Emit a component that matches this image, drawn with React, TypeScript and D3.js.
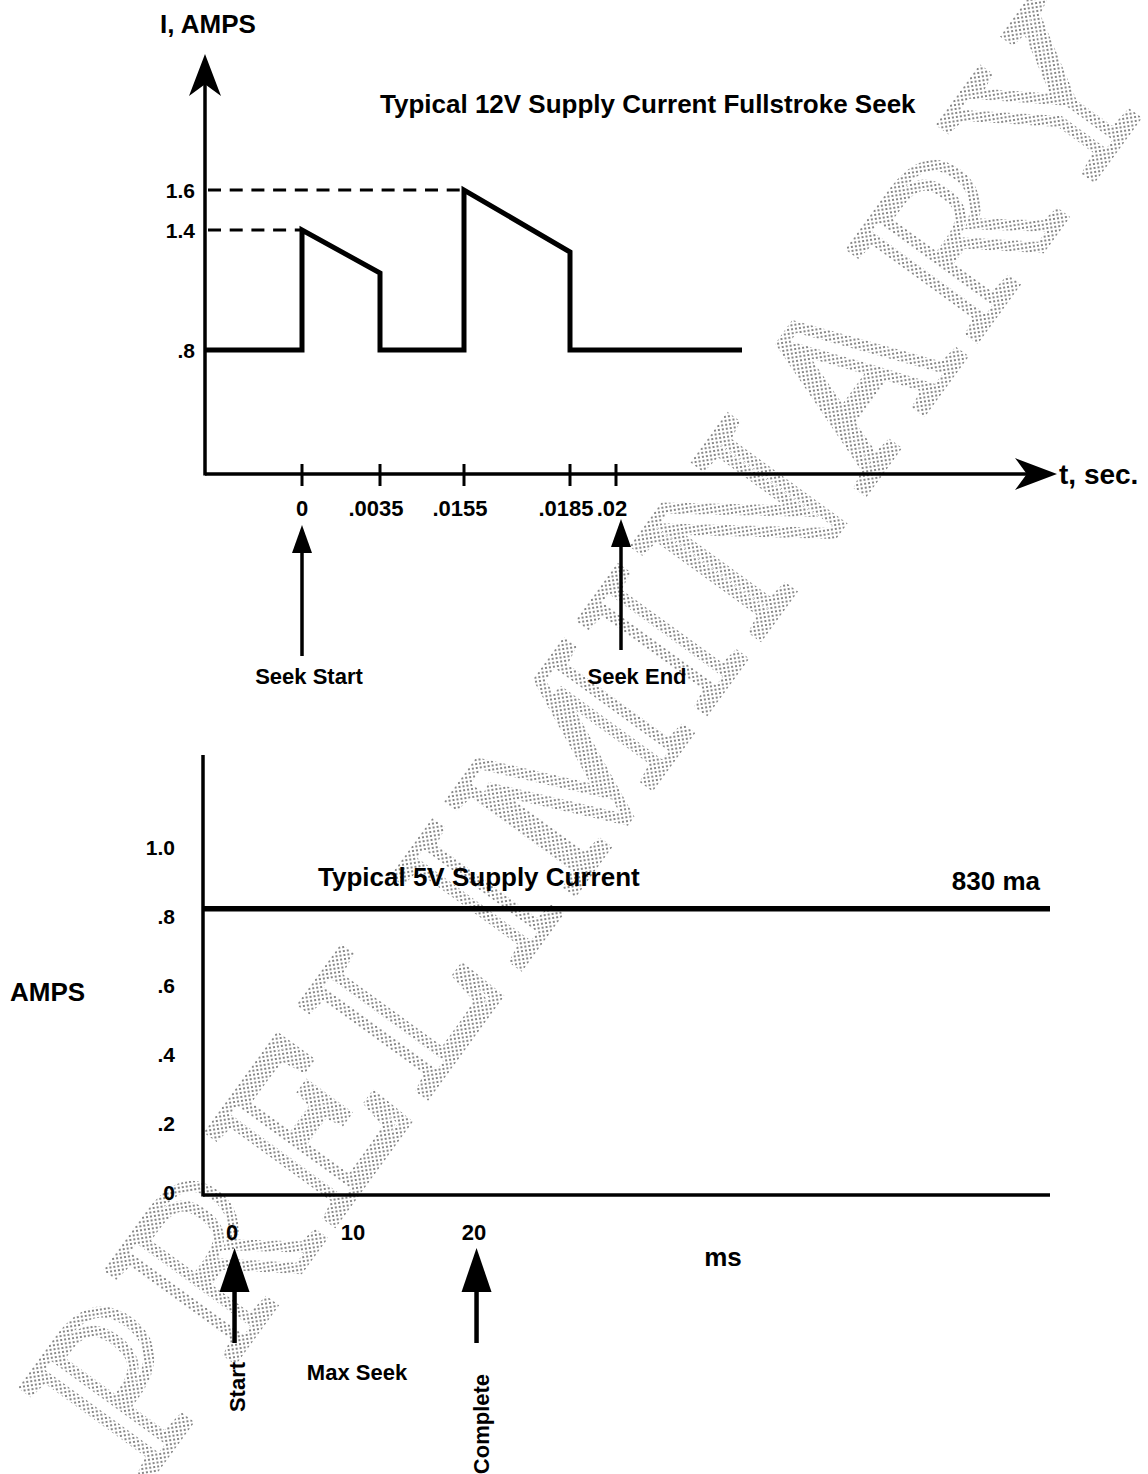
import React, { useEffect, useRef } from "react";
import * as d3 from "d3";

// top chart: 12V supply current during a fullstroke seek
const tickTimes = [0, 0.0035, 0.0155, 0.0185, 0.02];
const tickLabels = ["0", ".0035", ".0155", ".0185", ".02"];
const levelValues = [1.6, 1.4, 0.8];
const levelLabels = ["1.6", "1.4", ".8"];
const waveTime = [-0.004, 0, 0, 0.0035, 0.0035, 0.0155, 0.0155, 0.0185, 0.0185, 0.024];
const waveAmps = [0.8, 0.8, 1.4, 1.185, 0.8, 0.8, 1.6, 1.29, 0.8, 0.8];
const seekMarkTimes = [0, 0.02];
const seekMarkLabels = ["Seek Start", "Seek End"];

// bottom chart: 5V supply current
const ampTicks = [0, 0.2, 0.4, 0.6, 0.8, 1.0];
const ampLabels = ["0", ".2", ".4", ".6", ".8", "1.0"];
const msTicks = [0, 10, 20];
const supply5V = 0.83;
const seekMs = [0, 20];
const seekMsLabels = ["Start", "Complete"];

const FONT = "'Liberation Sans', Arial, Helvetica, sans-serif";

type G = d3.Selection<SVGGElement, unknown, null, undefined>;

function label(g: G, s: string, x: number, y: number, size: number, anchor = "start") {
  return g
    .append("text")
    .attr("x", x)
    .attr("y", y)
    .attr("font-family", FONT)
    .attr("font-weight", "bold")
    .attr("font-size", size)
    .attr("text-anchor", anchor)
    .attr("fill", "#000")
    .text(s);
}

// barbed arrow head for the axis ends
function barb(g: G, tipX: number, tipY: number, dir: "up" | "right", len: number, half: number) {
  const notch = len * 0.72;
  const pts =
    dir === "up"
      ? [[tipX, tipY], [tipX - half, tipY + len], [tipX, tipY + notch], [tipX + half, tipY + len]]
      : [[tipX, tipY], [tipX - len, tipY - half], [tipX - notch, tipY], [tipX - len, tipY + half]];
  g.append("path").attr("d", "M" + pts.join("L") + "Z").attr("fill", "#000");
}

// plain up arrow for markers below the axis
function upArrow(g: G, x: number, tipY: number, headLen: number, half: number, endY: number, w: number) {
  g.append("line")
    .attr("x1", x).attr("x2", x)
    .attr("y1", tipY + headLen - 2).attr("y2", endY)
    .attr("stroke", "#000").attr("stroke-width", w);
  g.append("path")
    .attr("d", `M${x},${tipY}L${x - half},${tipY + headLen}L${x + half},${tipY + headLen}Z`)
    .attr("fill", "#000");
}

export default function App() {
  const ref = useRef<SVGSVGElement>(null);

  useEffect(() => {
    const svg = d3.select(ref.current).attr("width", 1148).attr("height", 1474);
    svg.selectAll("*").remove();

    svg.append("rect").attr("width", 1148).attr("height", 1474).attr("fill", "#fff");

    // halftone watermark
    const defs = svg.append("defs");
    defs
      .append("pattern")
      .attr("id", "dots")
      .attr("width", 4)
      .attr("height", 4)
      .attr("patternUnits", "userSpaceOnUse")
      .attr("patternTransform", "rotate(45)")
      .append("rect")
      .attr("width", 2)
      .attr("height", 2)
      .attr("fill", "#888");

    svg
      .append("text")
      .attr("transform", "translate(595,728) rotate(-54)")
      .attr("font-family", "'Liberation Serif', 'Times New Roman', serif")
      .attr("font-size", 232)
      .attr("letter-spacing", 16)
      .attr("text-anchor", "middle")
      .attr("dominant-baseline", "central")
      .attr("fill", "none")
      .attr("stroke", "url(#dots)")
      .attr("stroke-width", 11)
      .text("PRELIMINARY");

    const g = svg.append("g") as unknown as G;

    // ---------- top chart ----------
    const x = d3
      .scaleLinear()
      .domain([-0.004, 0, 0.0035, 0.0155, 0.0185, 0.02, 0.034])
      .range([205, 302, 380, 464, 570, 616, 1057]);
    const y = d3.scaleLinear().domain([0.18, 2.28]).range([474, 54]);
    const x0 = x(-0.004);
    const y0 = y(0.18);

    // axes
    g.append("line")
      .attr("x1", x0).attr("x2", x0)
      .attr("y1", y0 + 1.5).attr("y2", y(2.28) + 20)
      .attr("stroke", "#000").attr("stroke-width", 3.5);
    barb(g, x0, y(2.28), "up", 42, 16);
    g.append("line")
      .attr("x1", x0).attr("x2", x(0.034) - 20)
      .attr("y1", y0).attr("y2", y0)
      .attr("stroke", "#000").attr("stroke-width", 3.5);
    barb(g, x(0.034), y0, "right", 42, 16);

    label(g, "I, AMPS", x0 + 3, 33, 26, "middle");
    label(g, "t, sec.", 1059, 484, 28);
    label(g, "Typical 12V Supply Current Fullstroke Seek", 380, 113, 26);

    // ticks
    tickTimes.forEach((t, i) => {
      g.append("line")
        .attr("x1", x(t)).attr("x2", x(t))
        .attr("y1", y0 - 10).attr("y2", y0 + 12)
        .attr("stroke", "#000").attr("stroke-width", 3);
      label(g, tickLabels[i], x(t) + (tickLabels[i].startsWith(".") ? -4 : 0), 516, 22, "middle");
    });

    // level labels and dashed guides
    levelValues.forEach((v, i) => {
      label(g, levelLabels[i], 195, y(v) + 7.5, 21, "end");
    });
    const peakTime = [0.0155, 0];
    [1.6, 1.4].forEach((v, i) => {
      g.append("line")
        .attr("x1", x0 + 3).attr("x2", x(peakTime[i]))
        .attr("y1", y(v)).attr("y2", y(v))
        .attr("stroke", "#000").attr("stroke-width", 3.2)
        .attr("stroke-dasharray", "13,8.7");
    });

    // waveform
    const wave = d3
      .line<number>()
      .x((_, i) => x(waveTime[i]))
      .y((d) => y(d));
    g.append("path")
      .attr("d", wave(waveAmps))
      .attr("fill", "none")
      .attr("stroke", "#000")
      .attr("stroke-width", 5)
      .attr("stroke-linejoin", "miter");

    // seek markers
    seekMarkTimes.forEach((t, i) => {
      const mx = x(t) + (i === 1 ? 5 : 0);
      upArrow(g, mx, i === 0 ? 525 : 519, 28, 10, i === 0 ? 656 : 650, 3.5);
      label(g, seekMarkLabels[i], mx + (i === 0 ? 7 : 16), 684, 22, "middle");
    });

    // ---------- bottom chart ----------
    const xb = d3.scaleLinear().domain([-2.4, 67.6]).range([203, 1050]);
    const yb = d3.scaleLinear().domain([0, 1]).range([1195, 850]);
    const xb0 = xb(-2.4);
    const yb0 = yb(0);

    g.append("line")
      .attr("x1", xb0).attr("x2", xb0)
      .attr("y1", yb0 + 1.5).attr("y2", 755)
      .attr("stroke", "#000").attr("stroke-width", 3.5);
    g.append("line")
      .attr("x1", xb0).attr("x2", xb(67.6))
      .attr("y1", yb0).attr("y2", yb0)
      .attr("stroke", "#000").attr("stroke-width", 3.5);

    ampTicks.forEach((v, i) => {
      label(g, ampLabels[i], 175, yb(v) + 5, 21, "end");
    });
    msTicks.forEach((t) => {
      label(g, String(t), xb(t), 1240, 22, "middle");
    });

    g.append("line")
      .attr("x1", xb0).attr("x2", xb(67.6))
      .attr("y1", yb(supply5V)).attr("y2", yb(supply5V))
      .attr("stroke", "#000").attr("stroke-width", 5.5);

    label(g, "Typical 5V Supply Current", 318, 886, 26);
    label(g, "830 ma", 1040, 890, 26, "end");
    label(g, "AMPS", 10, 1001, 26);
    label(g, "ms", 723, 1266, 26, "middle");
    label(g, "Max Seek", 357, 1380, 22, "middle");

    seekMs.forEach((t, i) => {
      const mx = xb(t) + 2.5;
      upArrow(g, mx, 1248, 44, 15, 1343, 4.5);
      label(g, seekMsLabels[i], 0, 0, 22, "middle").attr(
        "transform",
        `translate(${mx + (i === 0 ? 10 : 12)},${i === 0 ? 1387 : 1424}) rotate(-90)`
      );
    });
  }, []);

  return <svg ref={ref} style={{ position: "absolute", left: 0, top: 0 }} />;
}
